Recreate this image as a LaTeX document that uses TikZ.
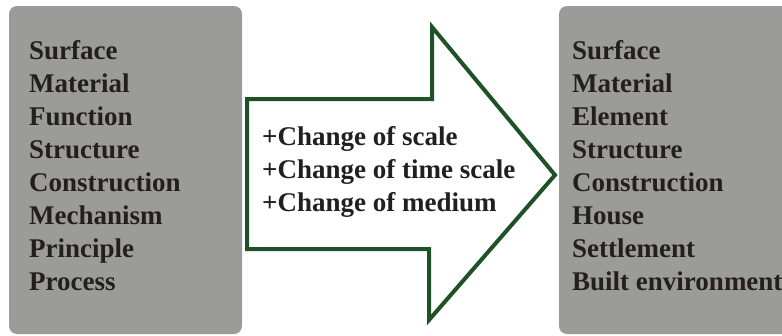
\documentclass[tikz,border=0pt]{standalone}
\usepackage{fontspec}
\setmainfont{Liberation Serif}
\definecolor{boxgrey}{HTML}{9B9C9A}
\definecolor{arrgreen}{HTML}{1E5128}
\definecolor{txt}{HTML}{231F20}
\begin{document}
\begin{tikzpicture}[x=1pt,y=-1pt,
  panel/.style={fill=boxgrey, draw=none, rounded corners=8pt},
  lbl/.style={anchor=base west, inner sep=0pt, font=\fontsize{27}{33}\selectfont\bfseries, text=txt},
  bigarrow/.style={draw=arrgreen, line width=4pt, fill=white, line join=miter}]
\useasboundingbox (0,0) rectangle (782,335);
\fill[panel] (9,6) rectangle (242,334);
\fill[panel] (559,6) rectangle (820,334);
\draw[bigarrow] (247,99) -- (432,99) -- (432,27) -- (555,175) -- (429,320) -- (429,249) -- (247,249) -- cycle;
\foreach \t [count=\i] in {Surface,Material,Function,Structure,Construction,Mechanism,Principle,Process}
  \node[lbl] (L\i) at (29,{59+33*(\i-1)}) {\t};
\foreach \t [count=\i] in {Surface,Material,Element,Structure,Construction,House,Settlement,Built environment}
  \node[lbl] (R\i) at (572,{59+33*(\i-1)}) {\t};
\foreach \t [count=\i] in {+Change of scale,+Change of time scale,+Change of medium}
  \node[lbl] (M\i) at (262,{145+33*(\i-1)}) {\t};
\end{tikzpicture}
\end{document}
